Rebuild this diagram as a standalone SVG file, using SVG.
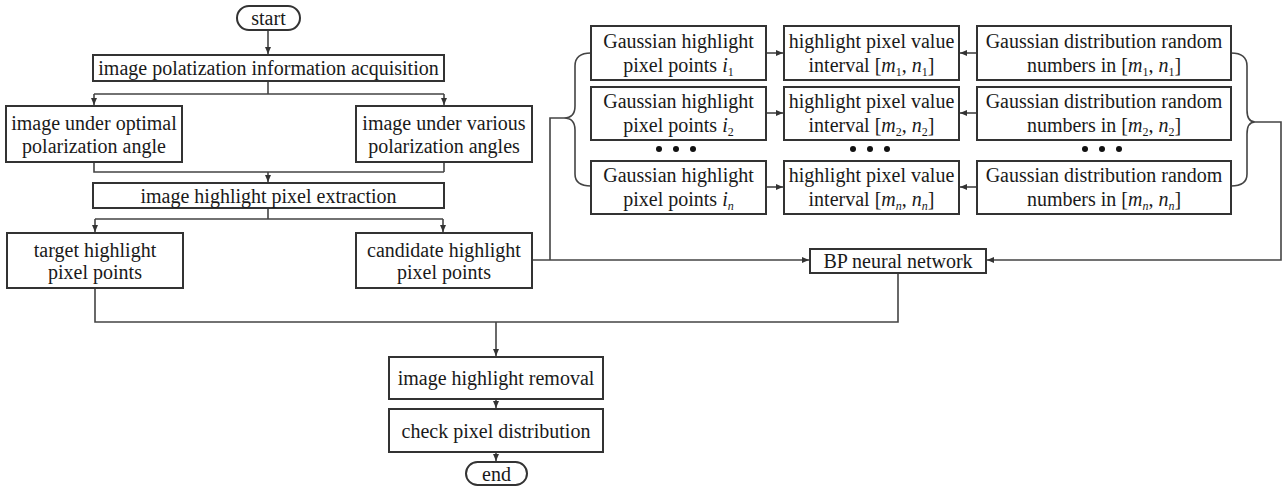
<svg xmlns="http://www.w3.org/2000/svg" width="1284" height="489" viewBox="0 0 1284 489">
<style>
.b{fill:#fff;stroke:#333;stroke-width:2}
.t{font-family:"Liberation Serif","Times New Roman",serif;font-size:20px;fill:#1a1a1a;text-anchor:middle}
.i{font-style:italic}
.s{font-size:12px}
.c{fill:none;stroke:#444;stroke-width:1.6}
.d{fill:#111}
</style>
<defs>
<marker id="a" markerWidth="8" markerHeight="8" refX="7" refY="4" orient="auto" markerUnits="userSpaceOnUse">
<path d="M0,1 L7,4 L0,7 Z" fill="#333"/>
</marker>
</defs>

<g id="connectors">
<path class="c" d="M268,30 V54" marker-end="url(#a)"/>
<path class="c" d="M268,81 V94 M94,94 H444"/>
<path class="c" d="M94,94 V105" marker-end="url(#a)"/>
<path class="c" d="M444,94 V105" marker-end="url(#a)"/>
<path class="c" d="M94,162 V172 H444 M444,162 V172"/>
<path class="c" d="M268,172 V182" marker-end="url(#a)"/>
<path class="c" d="M268,208 V219 M95,219 H443"/>
<path class="c" d="M95,219 V232" marker-end="url(#a)"/>
<path class="c" d="M443,219 V232" marker-end="url(#a)"/>
<path class="c" d="M532,260 H809" marker-end="url(#a)"/>
<path class="c" d="M550,260 V118 H564"/>
<path class="c" d="M591,53 C580,53 575,57 575,66 V106 C575,114 571,118 564,118 C571,118 575,122 575,130 V174 C575,182 580,186 591,186"/>
<path class="c" d="M766,53 H783" marker-end="url(#a)"/>
<path class="c" d="M766,113 H783" marker-end="url(#a)"/>
<path class="c" d="M766,187 H783" marker-end="url(#a)"/>
<path class="c" d="M977,53 H960" marker-end="url(#a)"/>
<path class="c" d="M977,113 H960" marker-end="url(#a)"/>
<path class="c" d="M977,187 H960" marker-end="url(#a)"/>
<path class="c" d="M1231,53 C1242,53 1247,57 1247,66 V110 C1247,118 1250,122 1255,122 C1250,122 1247,126 1247,134 V174 C1247,182 1242,186 1231,186"/>
<path class="c" d="M1255,122 H1281 V260 H987" marker-end="url(#a)"/>
<path class="c" d="M95,288 V322 H898 V273"/>
<path class="c" d="M496,322 V356" marker-end="url(#a)"/>
<path class="c" d="M496,399 V408" marker-end="url(#a)"/>
<path class="c" d="M496,452 V461" marker-end="url(#a)"/>
</g>

<g id="start">
<rect class="b" x="237" y="6" width="63" height="24" rx="12"/>
<text class="t" x="268.5" y="25">start</text>
</g>
<g id="acquisition">
<rect class="b" x="93" y="55" width="351" height="26"/>
<text class="t" x="268.5" y="75">image polatization information acquisition</text>
</g>
<g id="optimal">
<rect class="b" x="6" y="106" width="176" height="56"/>
<text class="t" x="94" y="130">image under optimal</text>
<text class="t" x="94" y="152.5">polarization angle</text>
</g>
<g id="various">
<rect class="b" x="356" y="106" width="176" height="56"/>
<text class="t" x="444" y="130">image under various</text>
<text class="t" x="444" y="152.5">polarization angles</text>
</g>
<g id="extraction">
<rect class="b" x="93" y="183" width="351" height="25"/>
<text class="t" x="268.5" y="202.5">image highlight pixel extraction</text>
</g>
<g id="target">
<rect class="b" x="7" y="233" width="176" height="55"/>
<text class="t" x="95" y="257">target highlight</text>
<text class="t" x="95" y="279">pixel points</text>
</g>
<g id="candidate">
<rect class="b" x="356" y="233" width="176" height="55"/>
<text class="t" x="444" y="257">candidate highlight</text>
<text class="t" x="444" y="279">pixel points</text>
</g>

<g id="gauss1">
<rect class="b" x="591" y="26" width="175" height="54"/>
<text class="t" x="678.5" y="47.5">Gaussian highlight</text>
<text class="t" x="678.5" y="71.5">pixel points <tspan class="i">i</tspan><tspan class="s" dy="4">1</tspan></text>
</g>
<g id="gauss2">
<rect class="b" x="591" y="87" width="175" height="53"/>
<text class="t" x="678.5" y="108">Gaussian highlight</text>
<text class="t" x="678.5" y="132">pixel points <tspan class="i">i</tspan><tspan class="s" dy="4">2</tspan></text>
</g>
<g id="gaussn">
<rect class="b" x="591" y="161" width="175" height="53"/>
<text class="t" x="678.5" y="182">Gaussian highlight</text>
<text class="t" x="678.5" y="206">pixel points <tspan class="i">i</tspan><tspan class="s i" dy="4">n</tspan></text>
</g>

<g id="interval1">
<rect class="b" x="784" y="26" width="175" height="54"/>
<text class="t" x="871.5" y="47.5">highlight pixel value</text>
<text class="t" x="871.5" y="71.5">interval [<tspan class="i">m</tspan><tspan class="s" dy="4">1</tspan><tspan dy="-4">, </tspan><tspan class="i">n</tspan><tspan class="s" dy="4">1</tspan><tspan dy="-4">]</tspan></text>
</g>
<g id="interval2">
<rect class="b" x="784" y="87" width="175" height="53"/>
<text class="t" x="871.5" y="108">highlight pixel value</text>
<text class="t" x="871.5" y="132">interval [<tspan class="i">m</tspan><tspan class="s" dy="4">2</tspan><tspan dy="-4">, </tspan><tspan class="i">n</tspan><tspan class="s" dy="4">2</tspan><tspan dy="-4">]</tspan></text>
</g>
<g id="intervaln">
<rect class="b" x="784" y="161" width="175" height="53"/>
<text class="t" x="871.5" y="182">highlight pixel value</text>
<text class="t" x="871.5" y="206">interval [<tspan class="i">m</tspan><tspan class="s i" dy="4">n</tspan><tspan dy="-4">, </tspan><tspan class="i">n</tspan><tspan class="s i" dy="4">n</tspan><tspan dy="-4">]</tspan></text>
</g>

<g id="random1">
<rect class="b" x="977" y="26" width="254" height="54"/>
<text class="t" x="1104" y="47.5">Gaussian distribution random</text>
<text class="t" x="1104" y="71.5">numbers in [<tspan class="i">m</tspan><tspan class="s" dy="4">1</tspan><tspan dy="-4">, </tspan><tspan class="i">n</tspan><tspan class="s" dy="4">1</tspan><tspan dy="-4">]</tspan></text>
</g>
<g id="random2">
<rect class="b" x="977" y="87" width="254" height="53"/>
<text class="t" x="1104" y="108">Gaussian distribution random</text>
<text class="t" x="1104" y="132">numbers in [<tspan class="i">m</tspan><tspan class="s" dy="4">2</tspan><tspan dy="-4">, </tspan><tspan class="i">n</tspan><tspan class="s" dy="4">2</tspan><tspan dy="-4">]</tspan></text>
</g>
<g id="randomn">
<rect class="b" x="977" y="161" width="254" height="53"/>
<text class="t" x="1104" y="182">Gaussian distribution random</text>
<text class="t" x="1104" y="206">numbers in [<tspan class="i">m</tspan><tspan class="s i" dy="4">n</tspan><tspan dy="-4">, </tspan><tspan class="i">n</tspan><tspan class="s i" dy="4">n</tspan><tspan dy="-4">]</tspan></text>
</g>

<g id="dots">
<circle class="d" cx="659" cy="149" r="3"/><circle class="d" cx="676" cy="149" r="3"/><circle class="d" cx="693" cy="149" r="3"/>
<circle class="d" cx="853" cy="149" r="3"/><circle class="d" cx="870" cy="149" r="3"/><circle class="d" cx="887" cy="149" r="3"/>
<circle class="d" cx="1085" cy="149" r="3"/><circle class="d" cx="1102" cy="149" r="3"/><circle class="d" cx="1119" cy="149" r="3"/>
</g>

<g id="bp">
<rect class="b" x="810" y="249" width="176" height="24"/>
<text class="t" x="898" y="267.5">BP neural network</text>
</g>
<g id="removal">
<rect class="b" x="389" y="357" width="214" height="42"/>
<text class="t" x="496" y="385">image highlight removal</text>
</g>
<g id="check">
<rect class="b" x="389" y="409" width="214" height="43"/>
<text class="t" x="496" y="437.5">check pixel distribution</text>
</g>
<g id="end">
<rect class="b" x="466" y="462" width="61" height="23" rx="11.5"/>
<text class="t" x="496.5" y="480.5">end</text>
</g>
</svg>
